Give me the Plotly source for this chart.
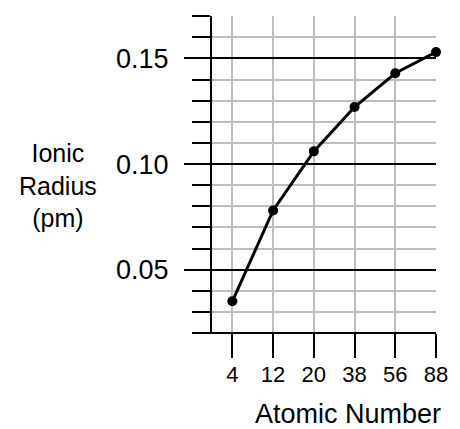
import plotly.graph_objects as go

categories = ["4", "12", "20", "38", "56", "88"]
radius = [0.035, 0.078, 0.106, 0.127, 0.143, 0.153]
y_major = [0.05, 0.10, 0.15]
y_major_text = ["0.05", "0.10", "0.15"]

W, H = 460, 429
L, R, T, B = 212, 16, 16, 96
pw = W - L - R
ph = H - T - B

xs = list(range(len(categories)))
FONT = "Helvetica, Arial, 'Liberation Sans', sans-serif"

fig = go.Figure()
fig.add_trace(go.Scatter(
    x=xs, y=radius, mode="lines+markers",
    line=dict(color="black", width=3),
    marker=dict(color="black", size=10),
    cliponaxis=False, hoverinfo="skip", showlegend=False,
))

fig.update_layout(
    width=W, height=H,
    margin=dict(l=L, r=R, t=T, b=B, pad=0),
    paper_bgcolor="white", plot_bgcolor="white",
    font=dict(family=FONT, color="black"),
    xaxis=dict(
        range=[-0.5, 5.0001], tickvals=xs, ticktext=categories,
        ticks="outside", ticklen=24, tickwidth=2, tickcolor="black",
        showgrid=True, gridcolor="#bdbdbd", gridwidth=2,
        showline=False, zeroline=False,
        tickfont=dict(size=22, family=FONT),
        ticklabelstandoff=-2,
    ),
    yaxis=dict(
        range=[0.02, 0.1701], tickvals=y_major, ticktext=y_major_text,
        ticks="outside", ticklen=26, tickwidth=2, tickcolor="black",
        showgrid=True, gridcolor="black", gridwidth=2,
        showline=True, linecolor="black", linewidth=2,
        zeroline=False,
        tickfont=dict(size=27, family=FONT),
        ticklabelstandoff=10,
        minor=dict(dtick=0.01, tick0=0, ticks="outside", ticklen=18,
                   tickwidth=2, tickcolor="black",
                   showgrid=True, gridcolor="#bdbdbd", gridwidth=2),
    ),
    shapes=[
        dict(type="line", xref="paper", yref="paper",
             x0=(193 - L) / pw, x1=1.0, y0=0, y1=0,
             line=dict(color="black", width=2), layer="above"),
    ],
    annotations=[
        dict(text="Ionic<br>Radius<br>(pm)", xref="paper", yref="paper",
             x=(53 - L) / pw, y=(H - B - 185) / ph, showarrow=False,
             xanchor="center", yanchor="middle", align="center",
             font=dict(size=25, family=FONT)),
        dict(text="Atomic Number", xref="paper", yref="paper",
             x=(353 - L) / pw, y=(H - B - 414) / ph, showarrow=False,
             xanchor="center", yanchor="middle",
             font=dict(size=27, family=FONT)),
    ],
)

fig.write_html("out.html")
